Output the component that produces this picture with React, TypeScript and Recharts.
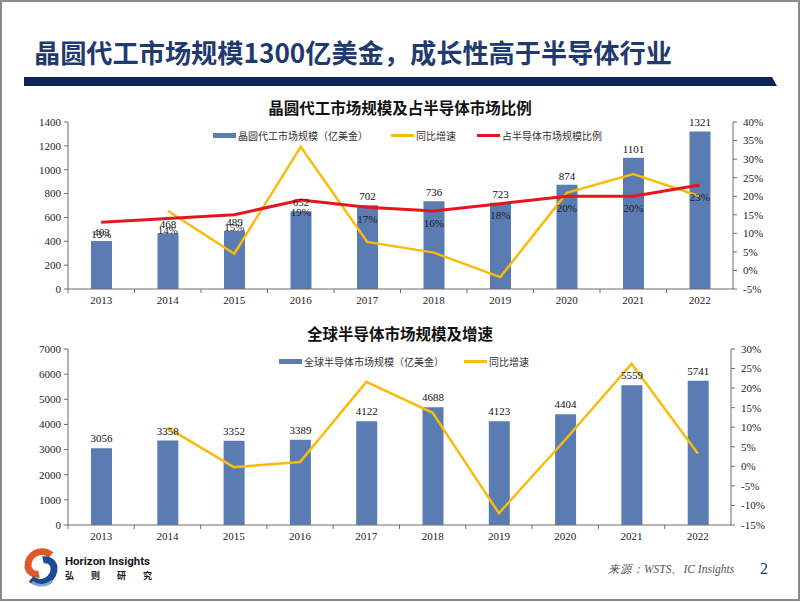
import {
  Bar,
  ComposedChart,
  LabelList,
  Line,
  XAxis,
  YAxis,
} from "recharts";

const years = ["2013", "2014", "2015", "2016", "2017", "2018", "2019", "2020", "2021", "2022"];

// 晶圆代工市场规模（亿美金）
const foundrySize = [403, 468, 489, 652, 702, 736, 723, 874, 1101, 1321];
// 同比增速 (%)
const foundryGrowth = [null, 16.1, 4.5, 33.3, 7.7, 4.8, -1.8, 20.9, 26.0, 20.0];
// 占半导体市场规模比例 (%)
const foundryShare = [13, 14, 15, 19, 17, 16, 18, 20, 20, 23];

// 全球半导体市场规模（亿美金）
const semiSize = [3056, 3358, 3352, 3389, 4122, 4688, 4123, 4404, 5559, 5741];
// 同比增速 (%)
const semiGrowth = [null, 9.9, -0.2, 1.1, 21.6, 13.7, -12.0, 6.8, 26.2, 3.3];

const topLeftTicks = [0, 200, 400, 600, 800, 1000, 1200, 1400];
const topRightTicks = [-5, 0, 5, 10, 15, 20, 25, 30, 35, 40];
const bottomLeftTicks = [0, 1000, 2000, 3000, 4000, 5000, 6000, 7000];
const bottomRightTicks = [-15, -10, -5, 0, 5, 10, 15, 20, 25, 30];

const topData = years.map((year, i) => ({
  year,
  size: foundrySize[i],
  growth: foundryGrowth[i],
  share: foundryShare[i],
}));

const bottomData = years.map((year, i) => ({
  year,
  size: semiSize[i],
  growth: semiGrowth[i],
}));

const BLUE = "#5B7BB3";
const YELLOW = "#F9BC0C";
const RED = "#E5161D";
const NAVY = "#1F3A6E";
const AXIS = "#6d6d6d";
const SERIF = "'Liberation Serif', 'Times New Roman', serif";
const CJK = "'Noto Sans CJK SC', sans-serif";

const axisTick = { fill: "#222", fontSize: 11, fontFamily: SERIF };
const pct = (v: number) => `${v}%`;

const makeXTick = (band: number) =>
  function XTick(props: any) {
    const { x, y, payload } = props;
    return (
      <g>
        <line x1={x - band / 2} x2={x - band / 2} y1={y} y2={y + 4} stroke={AXIS} />
        <text x={x} y={y + 15} textAnchor="middle" fill="#222" fontSize={11} fontFamily={SERIF}>
          {payload.value}
        </text>
      </g>
    );
  };

function LegendRow({
  left,
  top,
  items,
}: {
  left: number;
  top: number;
  items: { label: string; color: string; kind: "bar" | "line"; gap: number }[];
}) {
  return (
    <div
      style={{
        position: "absolute",
        left,
        top,
        display: "flex",
        alignItems: "center",
        fontFamily: CJK,
        fontSize: 10,
        color: "#333",
        whiteSpace: "nowrap",
      }}
    >
      {items.map((it) => (
        <div key={it.label} style={{ display: "flex", alignItems: "center", marginRight: it.gap }}>
          <span
            style={{
              display: "inline-block",
              width: 23,
              height: it.kind === "bar" ? 5 : 3,
              background: it.color,
              marginRight: 2,
            }}
          />
          <span>{it.label}</span>
        </div>
      ))}
    </div>
  );
}

function Logo() {
  return (
    <svg width={38} height={40} viewBox="0 0 38 40" style={{ position: "absolute", left: 22, top: 547 }}>
      <path d="M29 8 A14 14 0 0 0 6 20 A9 9 0 0 0 17 27" fill="none" stroke="#E0582A" strokeWidth={7} />
      <path d="M9 32 A14 14 0 0 0 32 20 A9 9 0 0 0 21 13" fill="none" stroke="#1C4C8F" strokeWidth={7} />
      <path d="M10 35 A15 15 0 0 0 30 34" fill="none" stroke="#7FA3D6" strokeWidth={2.5} />
    </svg>
  );
}

export default function App() {
  const topBand = 665 / years.length;
  const bottomBand = 663 / years.length;
  return (
    <div
      style={{
        position: "absolute",
        left: 0,
        top: 0,
        width: 802,
        height: 602,
        background: "#fff",
        overflow: "hidden",
      }}
    >
      <div
        style={{
          position: "absolute",
          left: 0,
          top: 0,
          width: 800,
          height: 601,
          boxSizing: "border-box",
          border: "2px solid #8a8a8a",
        }}
      />

      <div
        style={{
          position: "absolute",
          left: 34,
          top: 36,
          fontFamily: CJK,
          fontWeight: 700,
          fontSize: 26.2,
          color: NAVY,
          whiteSpace: "nowrap",
          lineHeight: "32px",
        }}
      >
        晶圆代工市场规模1300亿美金，成长性高于半导体行业
      </div>
      <svg width={802} height={20} style={{ position: "absolute", left: 0, top: 76 }}>
        <polygon points="24,1 772,1 777,10 24,10" fill="#0E2459" />
      </svg>

      <div
        style={{
          position: "absolute",
          left: 0,
          width: 800,
          top: 96,
          textAlign: "center",
          fontFamily: CJK,
          fontWeight: 700,
          fontSize: 15.5,
          color: "#111",
        }}
      >
        晶圆代工市场规模及占半导体市场比例
      </div>
      <LegendRow
        left={213}
        top={128}
        items={[
          { label: "晶圆代工市场规模（亿美金）", color: BLUE, kind: "bar", gap: 23 },
          { label: "同比增速", color: YELLOW, kind: "line", gap: 21 },
          { label: "占半导体市场规模比例", color: RED, kind: "line", gap: 0 },
        ]}
      />

      <div style={{ position: "absolute", left: 0, top: 110 }}>
        <ComposedChart
          width={800}
          height={200}
          data={topData}
          margin={{ top: 12, right: 17, left: 8, bottom: 0 }}
        >
          <XAxis
            dataKey="year"
            height={21}
            stroke={AXIS}
            tickLine={false}
            tickSize={0}
            tickMargin={0}
            interval={0}
            tick={makeXTick(topBand)}
          />
          <YAxis
            yAxisId="l"
            width={60}
            domain={[0, 1400]}
            ticks={topLeftTicks}
            stroke={AXIS}
            tickSize={4}
            tickMargin={3}
            tick={axisTick}
          />
          <YAxis
            yAxisId="r"
            orientation="right"
            width={50}
            domain={[-5, 40]}
            ticks={topRightTicks}
            stroke={AXIS}
            tickSize={4}
            tickMargin={6}
            tickFormatter={pct}
            tick={axisTick}
          />
          <Bar yAxisId="l" dataKey="size" fill={BLUE} barSize={21} isAnimationActive={false}>
            <LabelList dataKey="size" position="top" offset={5} fill="#111" fontSize={11} fontFamily={SERIF} />
          </Bar>
          <Line
            yAxisId="r"
            dataKey="growth"
            stroke={YELLOW}
            strokeWidth={2.5}
            dot={false}
            isAnimationActive={false}
          />
          <Line
            yAxisId="r"
            dataKey="share"
            stroke={RED}
            strokeWidth={3}
            dot={false}
            isAnimationActive={false}
          >
            <LabelList
              dataKey="share"
              position="bottom"
              offset={8}
              formatter={pct}
              fill="#222"
              fontSize={11}
              fontFamily={SERIF}
            />
          </Line>
        </ComposedChart>
      </div>

      <div
        style={{
          position: "absolute",
          left: 0,
          width: 800,
          top: 322,
          textAlign: "center",
          fontFamily: CJK,
          fontWeight: 700,
          fontSize: 15.5,
          color: "#111",
        }}
      >
        全球半导体市场规模及增速
      </div>
      <LegendRow
        left={279}
        top={354}
        items={[
          { label: "全球半导体市场规模（亿美金）", color: BLUE, kind: "bar", gap: 20 },
          { label: "同比增速", color: YELLOW, kind: "line", gap: 0 },
        ]}
      />

      <div style={{ position: "absolute", left: 0, top: 320 }}>
        <ComposedChart
          width={800}
          height={230}
          data={bottomData}
          margin={{ top: 29, right: 19, left: 8, bottom: 0 }}
        >
          <XAxis
            dataKey="year"
            height={25}
            stroke={AXIS}
            tickLine={false}
            tickSize={0}
            tickMargin={0}
            interval={0}
            tick={makeXTick(bottomBand)}
          />
          <YAxis
            yAxisId="l"
            width={60}
            domain={[0, 7000]}
            ticks={bottomLeftTicks}
            stroke={AXIS}
            tickSize={4}
            tickMargin={3}
            tick={axisTick}
          />
          <YAxis
            yAxisId="r"
            orientation="right"
            width={50}
            domain={[-15, 30]}
            ticks={bottomRightTicks}
            stroke={AXIS}
            tickSize={4}
            tickMargin={6}
            tickFormatter={pct}
            tick={axisTick}
          />
          <Bar yAxisId="l" dataKey="size" fill={BLUE} barSize={21} isAnimationActive={false}>
            <LabelList dataKey="size" position="top" offset={6} fill="#111" fontSize={11} fontFamily={SERIF} />
          </Bar>
          <Line
            yAxisId="r"
            dataKey="growth"
            stroke={YELLOW}
            strokeWidth={2.5}
            dot={false}
            isAnimationActive={false}
          />
        </ComposedChart>
      </div>

      <Logo />
      <div
        style={{
          position: "absolute",
          left: 65,
          top: 554,
          fontFamily: "'Roboto', 'Liberation Sans', sans-serif",
          fontWeight: 700,
          fontSize: 11.5,
          color: "#1a1a1a",
          whiteSpace: "nowrap",
        }}
      >
        Horizon Insights
      </div>
      <div
        style={{
          position: "absolute",
          left: 65,
          top: 569,
          fontFamily: CJK,
          fontWeight: 700,
          fontSize: 9,
          color: "#1a1a1a",
          letterSpacing: 17,
          whiteSpace: "nowrap",
        }}
      >
        弘则研究
      </div>
      <div
        style={{
          position: "absolute",
          left: 608,
          top: 562,
          fontFamily: SERIF,
          fontStyle: "italic",
          fontSize: 11.5,
          color: "#555",
          whiteSpace: "nowrap",
        }}
      >
        来源：WSTS、IC Insights
      </div>
      <div
        style={{
          position: "absolute",
          left: 760,
          top: 560,
          fontFamily: SERIF,
          fontSize: 16,
          color: NAVY,
        }}
      >
        2
      </div>
    </div>
  );
}
